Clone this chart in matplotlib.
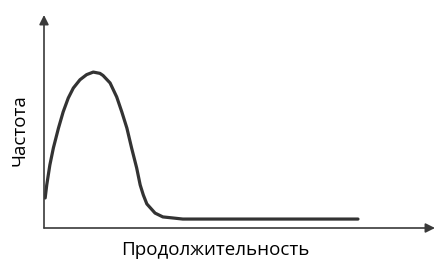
import matplotlib
matplotlib.use('Agg')
import matplotlib.pyplot as plt

# curve points (duration vs frequency, arbitrary units 0..100)
duration = [0.3, 0.7, 1.5, 2.4, 3.7, 4.9, 6.2, 7.5, 9.2, 10.9, 12.6, 14.3, 15.1,
            16.9, 18.6, 19.9, 21.2, 22.4, 23.7, 24.6, 25.4, 26.3, 28.4, 30.4,
            33.0, 35.5, 42.5, 80.3]
frequency = [14.1, 20.2, 29.6, 37.6, 46.9, 54.5, 61.0, 65.7, 69.6, 72.0, 73.2, 72.6, 71.6,
             68.1, 61.5, 54.5, 46.9, 37.6, 28.2, 20.2, 15.5, 11.3, 7.0, 5.2,
             4.7, 4.2, 4.2, 4.2]

xlabel = 'Продолжительность'
ylabel = 'Частота'

fig = plt.figure(figsize=(4.46, 2.65), dpi=100)
ax = fig.add_axes([44 / 446, 37 / 265, 391 / 446, 213 / 265])
ax.set_xlim(0, 100)
ax.set_ylim(0, 100)
ax.axis('off')

ax.plot(duration, frequency, color='#333333', lw=2.3, solid_capstyle='round',
        solid_joinstyle='round')

# axes with arrow heads
arrow = dict(arrowstyle='-|>', color='#3a3a3a', lw=1.2, mutation_scale=14,
             shrinkA=0, shrinkB=0)
ax.annotate('', xy=(1, 0), xytext=(0, 0), xycoords='axes fraction', arrowprops=arrow)
ax.annotate('', xy=(0, 1), xytext=(0, 0), xycoords='axes fraction', arrowprops=arrow)

fig.text(215 / 446, 1 - 250 / 265, xlabel, ha='center', va='center',
         fontsize=13.5, family='Open Sans', color='#000000')
fig.text(20 / 446, 1 - 130 / 265, ylabel, ha='center', va='center', rotation=90,
         fontsize=13.5, family='Open Sans', color='#000000')

fig.savefig('out.png', dpi=100)
